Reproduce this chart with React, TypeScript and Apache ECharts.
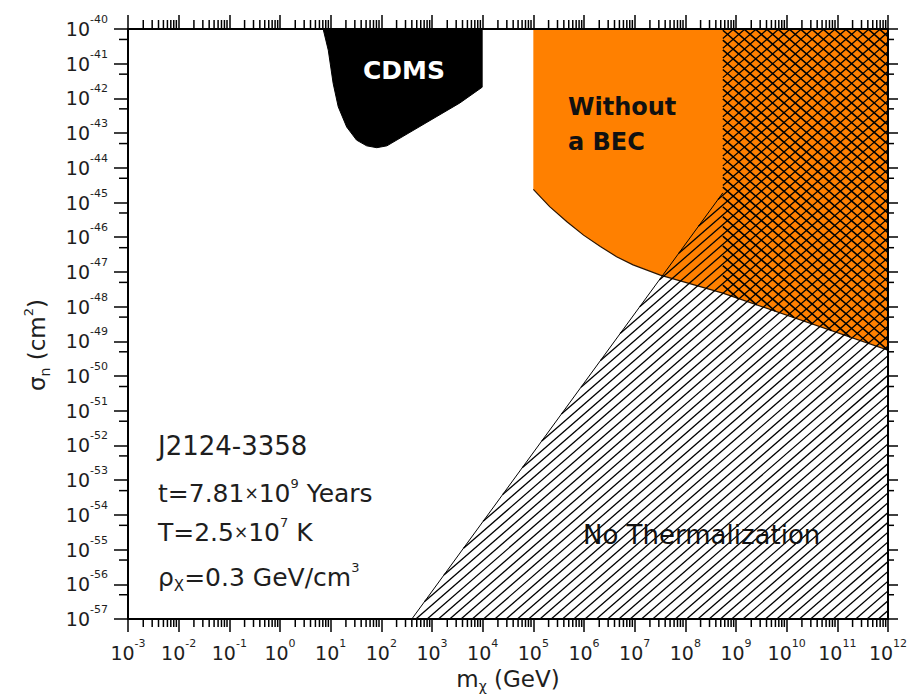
import React, { useEffect, useRef } from 'react';
import * as echarts from 'echarts';

const FONT = '"DejaVu Sans", "Liberation Sans", Arial, sans-serif';
const TXT = '#1e1e1e';

// axis ranges (decades)
const xExpMin = -3;
const xExpMax = 12;
const yExpMin = -57;
const yExpMax = -40;
const xMinorMultipliers = [2, 3, 4, 5, 6, 7, 8, 9];
const yMinorMultipliers = [5];

// CDMS excluded region (boundary, GeV / cm^2)
const cdmsMass = [7.1, 8.97, 11.2, 14.1, 20.7, 32.4, 51.3, 81.3, 129, 3550, 9770, 9770];
const cdmsSigma = [1e-40, 2.45e-41, 2.7e-42, 5.75e-43, 1.5e-43, 6.3e-44, 4.3e-44, 3.8e-44, 4.3e-44, 7.4e-43, 2.1e-42, 1e-40];

// "Without a BEC" region (orange)
const becMass = [1e5, 1e5, 2.1e5, 4.6e5, 9.8e5, 2.1e6, 4.4e6, 9.3e6, 3.2e7, 5.5e8, 1e12, 1e12];
const becSigma = [1e-40, 2.4e-45, 7.6e-46, 2.8e-46, 1.15e-46, 5.4e-47, 2.75e-47, 1.6e-47, 8.1e-48, 2.45e-48, 5.6e-50, 1e-40];

// "No Thermalization" region (single hatch)
const thermMass = [4e2, 5.5e8, 5.5e8, 1e12, 1e12];
const thermSigma = [1e-57, 1.9e-45, 1e-40, 1e-40, 1e-57];

// cross-hatched part (orange region beyond the BEC mass limit)
const crossMass = [5.5e8, 1e12, 1e12, 5.5e8];
const crossSigma = [1e-40, 1e-40, 5.6e-50, 2.45e-48];

const L = Math.log10;
const toData = (mass: number[], sigma: number[]) => mass.map((m, i) => [L(m), L(sigma[i])]);

function hatch(poly: number[][], angleDeg: number, spacing: number) {
  const th = (angleDeg * Math.PI) / 180;
  const d = [Math.cos(th), -Math.sin(th)];
  const n = [Math.sin(th), Math.cos(th)];
  const proj = poly.map((p) => p[0] * n[0] + p[1] * n[1]);
  const cmin = Math.min(...proj);
  const cmax = Math.max(...proj);
  const segs: number[][][] = [];
  for (let c = Math.ceil(cmin / spacing) * spacing + 0.013; c < cmax; c += spacing) {
    const p0 = [c * n[0], c * n[1]];
    const ts: number[] = [];
    for (let i = 0; i < poly.length; i++) {
      const a = poly[i];
      const b = poly[(i + 1) % poly.length];
      const e = [b[0] - a[0], b[1] - a[1]];
      const denom = d[0] * e[1] - d[1] * e[0];
      if (Math.abs(denom) < 1e-9) continue;
      const w = [a[0] - p0[0], a[1] - p0[1]];
      const t = (w[0] * e[1] - w[1] * e[0]) / denom;
      const u = (w[0] * d[1] - w[1] * d[0]) / denom;
      if (u >= 0 && u < 1) ts.push(t);
    }
    ts.sort((x, y) => x - y);
    for (let k = 0; k + 1 < ts.length; k += 2) {
      segs.push([
        [p0[0] + ts[k] * d[0], p0[1] + ts[k] * d[1]],
        [p0[0] + ts[k + 1] * d[0], p0[1] + ts[k + 1] * d[1]],
      ]);
    }
  }
  return segs;
}

function regionSeries(name: string, data: number[][], z: number, build: (pts: number[][]) => any) {
  return {
    type: 'custom',
    name,
    data,
    z,
    clip: true,
    silent: true,
    renderItem: (params: any, api: any) => {
      if (params.dataIndex !== 0) return null;
      const pts = data.map((p) => api.coord(p));
      return build(pts);
    },
  };
}

const hatchGroup = (pts: number[][], angle: number, spacing: number, width: number) => ({
  type: 'group',
  children: hatch(pts, angle, spacing).map((s) => ({
    type: 'line',
    shape: { x1: s[0][0], y1: s[0][1], x2: s[1][0], y2: s[1][1] },
    style: { stroke: '#000', lineWidth: width },
  })),
});

export default function App() {
  const ref = useRef<HTMLDivElement>(null);

  useEffect(() => {
    if (!ref.current) return;
    const chart = echarts.init(ref.current, undefined, { renderer: 'svg' });

    const cdmsData = toData(cdmsMass, cdmsSigma);
    const becData = toData(becMass, becSigma);
    const thermData = toData(thermMass, thermSigma);
    const crossData = toData(crossMass, crossSigma);

    const xMinor: number[][] = [];
    for (let e = xExpMin; e < xExpMax; e++) {
      xMinorMultipliers.forEach((k) => xMinor.push([e + L(k), yExpMin]));
    }
    const yMinor: number[][] = [];
    for (let e = yExpMin; e < yExpMax; e++) {
      yMinorMultipliers.forEach((k) => yMinor.push([xExpMin, e + L(k)]));
    }

    const labelRich = {
      b: { fontSize: 19, lineHeight: 30, fontFamily: FONT, color: TXT },
      s: { fontSize: 11, lineHeight: 11, verticalAlign: 'top', fontFamily: FONT, color: TXT },
    };
    const fmt = (v: number) => `{b|10}{s|${v}}`;

    const axisCommon = {
      type: 'value',
      interval: 1,
      z: 10,
      splitLine: { show: false },
      axisLine: { onZero: false, lineStyle: { color: '#000', width: 2 } },
    };

    const option: any = {
      animation: false,
      backgroundColor: '#fff',
      grid: { left: 128, top: 29, right: 22, bottom: 75, containLabel: false, outerBoundsMode: 'none' },
      xAxis: [
        {
          ...axisCommon,
          min: xExpMin,
          max: xExpMax,
          position: 'bottom',
          axisTick: { length: 13, lineStyle: { color: '#000', width: 1.5 } },
          axisLabel: { formatter: fmt, rich: labelRich, margin: 19, interval: 0 },
        },
        {
          ...axisCommon,
          min: xExpMin,
          max: xExpMax,
          position: 'top',
          axisTick: { length: 14, lineStyle: { color: '#000', width: 1.5 } },
          axisLabel: { show: false },
        },
      ],
      yAxis: [
        {
          ...axisCommon,
          min: yExpMin,
          max: yExpMax,
          position: 'left',
          axisTick: { length: 14, lineStyle: { color: '#000', width: 1.5 } },
          axisLabel: { formatter: fmt, rich: labelRich, margin: 20, interval: 0 },
        },
        {
          ...axisCommon,
          min: yExpMin,
          max: yExpMax,
          position: 'right',
          axisTick: { length: 10, lineStyle: { color: '#000', width: 1.5 } },
          axisLabel: { show: false },
        },
      ],
      series: [
        regionSeries('Without a BEC', becData, 2, (pts) => ({
          type: 'group',
          children: [
            { type: 'polygon', shape: { points: pts }, style: { fill: '#ff8000', stroke: 'none' } },
            {
              type: 'polyline',
              shape: { points: pts.slice(1, pts.length - 1) },
              style: { stroke: '#2a1400', lineWidth: 1.2, fill: 'none' },
            },
          ],
        })),
        regionSeries('CDMS', cdmsData, 3, (pts) => ({
          type: 'polygon',
          shape: { points: pts, smooth: 0 },
          style: { fill: '#000', stroke: '#000', lineWidth: 1 },
        })),
        regionSeries('No Thermalization', thermData, 4, (pts) => ({
          type: 'group',
          children: [
            hatchGroup(pts, 41, 7.4, 1.3),
            {
              type: 'line',
              shape: { x1: pts[0][0], y1: pts[0][1], x2: pts[1][0], y2: pts[1][1] },
              style: { stroke: '#000', lineWidth: 1 },
            },
          ],
        })),
        regionSeries('Cross', crossData, 5, (pts) => hatchGroup(pts, -41, 7.4, 1.6)),
        {
          type: 'custom',
          name: 'xMinorTicks',
          data: xMinor,
          clip: false,
          silent: true,
          z: 11,
          renderItem: (params: any, api: any) => {
            const v = api.value(0);
            const pb = api.coord([v, yExpMin]);
            const pt = api.coord([v, yExpMax]);
            return {
              type: 'group',
              children: [
                { type: 'line', shape: { x1: pb[0], y1: pb[1], x2: pb[0], y2: pb[1] + 8 }, style: { stroke: '#000', lineWidth: 1.5 } },
                { type: 'line', shape: { x1: pt[0], y1: pt[1], x2: pt[0], y2: pt[1] - 9 }, style: { stroke: '#000', lineWidth: 1.5 } },
              ],
            };
          },
        },
        {
          type: 'custom',
          name: 'yMinorTicks',
          data: yMinor,
          clip: false,
          silent: true,
          z: 11,
          renderItem: (params: any, api: any) => {
            const v = api.value(1);
            const pl = api.coord([xExpMin, v]);
            const pr = api.coord([xExpMax, v]);
            return {
              type: 'group',
              children: [
                { type: 'line', shape: { x1: pl[0] - 9, y1: pl[1], x2: pl[0], y2: pl[1] }, style: { stroke: '#000', lineWidth: 1.5 } },
                { type: 'line', shape: { x1: pr[0], y1: pr[1], x2: pr[0] + 6, y2: pr[1] }, style: { stroke: '#000', lineWidth: 1.5 } },
              ],
            };
          },
        },
      ],
      graphic: [
        {
          type: 'text', x: 404, y: 70, z: 20,
          style: { text: 'CDMS', fill: '#fff', font: `bold 25px ${FONT}`, textAlign: 'center', textVerticalAlign: 'middle' },
        },
        {
          type: 'text', x: 568, y: 107, z: 20,
          style: { text: 'Without', fill: '#111', font: `bold 24px ${FONT}`, textAlign: 'left', textVerticalAlign: 'middle' },
        },
        {
          type: 'text', x: 568, y: 142, z: 20,
          style: { text: 'a BEC', fill: '#111', font: `bold 24px ${FONT}`, textAlign: 'left', textVerticalAlign: 'middle' },
        },
        {
          type: 'text', x: 583, y: 535, z: 20,
          style: { text: 'No Thermalization', fill: '#111', font: `26px ${FONT}`, textAlign: 'left', textVerticalAlign: 'middle' },
        },
        {
          type: 'text', x: 158, y: 446, z: 20,
          style: { text: 'J2124-3358', fill: TXT, font: `26px ${FONT}`, textAlign: 'left', textVerticalAlign: 'middle' },
        },
        {
          type: 'text', x: 158, y: 493, z: 20,
          style: {
            text: '{m|t=7.81}{x|×}{m|10}{s|9}{m| Years}',
            textAlign: 'left', textVerticalAlign: 'middle', fill: TXT,
            rich: {
              m: { fontSize: 25, lineHeight: 32, fontFamily: FONT, fill: TXT },
              x: { fontSize: 17, lineHeight: 32, fontFamily: FONT, fill: TXT },
              s: { fontSize: 13, lineHeight: 10, verticalAlign: 'top', fontFamily: FONT, fill: TXT },
            },
          },
        },
        {
          type: 'text', x: 158, y: 532, z: 20,
          style: {
            text: '{m|T=2.5}{x|×}{m|10}{s|7}{m| K}',
            textAlign: 'left', textVerticalAlign: 'middle', fill: TXT,
            rich: {
              m: { fontSize: 25, lineHeight: 32, fontFamily: FONT, fill: TXT },
              x: { fontSize: 17, lineHeight: 32, fontFamily: FONT, fill: TXT },
              s: { fontSize: 13, lineHeight: 10, verticalAlign: 'top', fontFamily: FONT, fill: TXT },
            },
          },
        },
        {
          type: 'text', x: 158, y: 577, z: 20,
          style: {
            text: '{m|ρ}{d|X}{m|=0.3 GeV/cm}{s|3}',
            textAlign: 'left', textVerticalAlign: 'middle', fill: TXT,
            rich: {
              m: { fontSize: 25, lineHeight: 32, fontFamily: FONT, fill: TXT },
              d: { fontSize: 15, lineHeight: 14, verticalAlign: 'bottom', fontFamily: FONT, fill: TXT },
              s: { fontSize: 13, lineHeight: 10, verticalAlign: 'top', fontFamily: FONT, fill: TXT },
            },
          },
        },
        {
          type: 'text', x: 508, y: 679, z: 20,
          style: {
            text: '{m|m}{d|χ}{m| (GeV)}',
            textAlign: 'center', textVerticalAlign: 'middle', fill: TXT,
            rich: {
              m: { fontSize: 23, lineHeight: 28, fontFamily: FONT, fill: TXT },
              d: { fontSize: 14, lineHeight: 12, verticalAlign: 'bottom', fontFamily: FONT, fill: TXT },
            },
          },
        },
        {
          type: 'text', x: 37, y: 345, z: 20, rotation: Math.PI / 2,
          style: {
            text: '{m|σ}{d|n}{m| (cm}{s|2}{m|)}',
            textAlign: 'center', textVerticalAlign: 'middle', fill: TXT,
            rich: {
              m: { fontSize: 23, lineHeight: 30, fontFamily: FONT, fill: TXT },
              d: { fontSize: 14, lineHeight: 12, verticalAlign: 'bottom', fontFamily: FONT, fill: TXT },
              s: { fontSize: 13, lineHeight: 10, verticalAlign: 'top', fontFamily: FONT, fill: TXT },
            },
          },
        },
      ],
    };

    chart.setOption(option);
    return () => chart.dispose();
  }, []);

  return <div ref={ref} style={{ position: 'fixed', left: 0, top: 0, width: 910, height: 694, background: '#fff' }} />;
}
